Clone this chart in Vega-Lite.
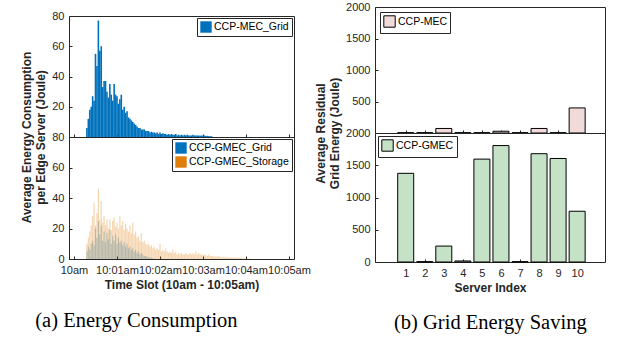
{
  "$schema": "https://vega.github.io/schema/vega-lite/v6.json",
  "background": "white",
  "padding": {"left": 20, "top": 0, "right": 2, "bottom": 2},
  "spacing": 3,
  "config": {
    "view": {"stroke": "#262626", "strokeWidth": 1},
    "axis": {
      "labelFont": "Liberation Sans", "labelFontSize": 11, "labelColor": "#262626", "labelOverlap": false, "labelBound": false, "labelFlush": false,
      "titleFont": "Liberation Sans", "titleFontSize": 12, "titleFontWeight": "bold", "titleColor": "#262626",
      "domain": false, "grid": false, "tickColor": "#262626", "tickSize": -3, "labelPadding": 8, "titlePadding": 4
    },
    "legend": {
      "title": null, "padding": 3, "strokeColor": "#262626", "fillColor": "white",
      "symbolType": "square", "symbolSize": 130, "symbolOpacity": 1, "symbolStrokeWidth": 0,
      "labelFont": "Liberation Sans", "labelFontSize": 10.5, "labelColor": "black", "labelOffset": 2, "rowPadding": 2
    }
  },
  "datasets": {
    "ts": [
      {"t":18,"a":6,"g":5,"s":10},{"t":20,"a":12,"g":8,"s":14},{"t":22,"a":18,"g":6,"s":18},{"t":24,"a":20,"g":10,"s":22},
      {"t":26,"a":27,"g":12,"s":28},{"t":28,"a":24,"g":9,"s":37},{"t":30,"a":55,"g":20,"s":22},{"t":32,"a":47,"g":14,"s":30},
      {"t":34,"a":77,"g":25,"s":46},{"t":36,"a":57,"g":16,"s":26},{"t":38,"a":60,"g":22,"s":38},{"t":40,"a":33,"g":12,"s":24},
      {"t":42,"a":37,"g":18,"s":28},{"t":44,"a":37,"g":11,"s":22},{"t":46,"a":30,"g":17,"s":26},{"t":48,"a":26,"g":13,"s":20},
      {"t":50,"a":35,"g":19,"s":26},{"t":52,"a":28,"g":10,"s":19},{"t":54,"a":24,"g":15,"s":25},{"t":56,"a":35,"g":12,"s":27},
      {"t":58,"a":28,"g":16,"s":21},{"t":60,"a":27,"g":10,"s":24},{"t":62,"a":22,"g":14,"s":20},{"t":64,"a":25,"g":11,"s":28},
      {"t":66,"a":28,"g":12,"s":22},{"t":68,"a":18,"g":9,"s":25},{"t":70,"a":20,"g":11,"s":19},{"t":72,"a":16,"g":8,"s":23},
      {"t":74,"a":17,"g":10,"s":20},{"t":76,"a":13,"g":7,"s":18},{"t":78,"a":12,"g":8,"s":22},{"t":80,"a":11,"g":6,"s":17},
      {"t":82,"a":10,"g":7,"s":24},{"t":84,"a":9,"g":5,"s":16},{"t":86,"a":8,"g":6,"s":18},{"t":88,"a":7,"g":4,"s":14},
      {"t":90,"a":6,"g":5,"s":15},{"t":92,"a":6,"g":3,"s":12},{"t":94,"a":5,"g":4,"s":17},{"t":96,"a":5,"g":3,"s":11},
      {"t":98,"a":5,"g":2,"s":12},{"t":100,"a":4,"g":2,"s":10},{"t":102,"a":4,"g":1.5,"s":9},{"t":104,"a":4,"g":1,"s":10},
      {"t":106,"a":3,"g":1,"s":8},{"t":108,"a":3.5,"g":0.5,"s":9},{"t":110,"a":3,"g":0.5,"s":7},{"t":112,"a":3,"g":0,"s":8},
      {"t":114,"a":2.5,"g":0,"s":6},{"t":116,"a":3,"g":0,"s":7},{"t":118,"a":2,"g":0,"s":6},{"t":120,"a":3,"g":0,"s":10},
      {"t":122,"a":2,"g":0,"s":5},{"t":124,"a":2.5,"g":0,"s":6},{"t":126,"a":2,"g":0,"s":5},{"t":128,"a":2,"g":0,"s":7},
      {"t":130,"a":1.5,"g":0,"s":5},{"t":132,"a":2,"g":0,"s":4},{"t":134,"a":1.5,"g":0,"s":5},{"t":136,"a":2,"g":0,"s":4},
      {"t":138,"a":1.5,"g":0,"s":6},{"t":140,"a":1.5,"g":0,"s":4},{"t":142,"a":2,"g":0,"s":5},{"t":144,"a":1,"g":0,"s":3},
      {"t":146,"a":1.5,"g":0,"s":4},{"t":148,"a":1,"g":0,"s":3},{"t":150,"a":1.5,"g":0,"s":4},{"t":152,"a":1,"g":0,"s":3},
      {"t":154,"a":1.5,"g":0,"s":3},{"t":156,"a":1,"g":0,"s":4},{"t":158,"a":1.5,"g":0,"s":3},{"t":160,"a":1,"g":0,"s":3},
      {"t":162,"a":1,"g":0,"s":4},{"t":164,"a":1,"g":0,"s":3},{"t":166,"a":1.5,"g":0,"s":4},{"t":168,"a":1,"g":0,"s":3},
      {"t":170,"a":1,"g":0,"s":5},{"t":172,"a":1,"g":0,"s":3},{"t":174,"a":1,"g":0,"s":4},{"t":176,"a":0.8,"g":0,"s":3},
      {"t":178,"a":1,"g":0,"s":3},{"t":180,"a":0.8,"g":0,"s":2.5},{"t":182,"a":1,"g":0,"s":3},{"t":184,"a":0.6,"g":0,"s":2.5},
      {"t":186,"a":0.8,"g":0,"s":2},{"t":188,"a":0.6,"g":0,"s":3},{"t":190,"a":0.5,"g":0,"s":2},{"t":192,"a":0.5,"g":0,"s":2},
      {"t":194,"a":0,"g":0,"s":2},{"t":196,"a":0,"g":0,"s":1.5},{"t":198,"a":0,"g":0,"s":2},{"t":200,"a":0,"g":0,"s":1.5},
      {"t":202,"a":0,"g":0,"s":2},{"t":204,"a":0,"g":0,"s":1.5},{"t":206,"a":0,"g":0,"s":1},{"t":208,"a":0,"g":0,"s":1.5},
      {"t":210,"a":0,"g":0,"s":1},{"t":212,"a":0,"g":0,"s":1.5},{"t":214,"a":0,"g":0,"s":1},{"t":216,"a":0,"g":0,"s":1},
      {"t":218,"a":0,"g":0,"s":1.2},{"t":220,"a":0,"g":0,"s":0.8},{"t":222,"a":0,"g":0,"s":1},{"t":224,"a":0,"g":0,"s":0.8},
      {"t":226,"a":0,"g":0,"s":1},{"t":228,"a":0,"g":0,"s":0.7},{"t":230,"a":0,"g":0,"s":0.8},{"t":232,"a":0,"g":0,"s":0.6},
      {"t":234,"a":0,"g":0,"s":0.7},{"t":236,"a":0,"g":0,"s":0.5},{"t":238,"a":0,"g":0,"s":0.5},{"t":240,"a":0,"g":0,"s":0.4},
      {"t":242,"a":0,"g":0,"s":0.4},{"t":244,"a":0,"g":0,"s":0.3}
    ],
    "srv": [
      {"i":1,"mec":5,"gmec":1375},{"i":2,"mec":5,"gmec":5},{"i":3,"mec":72,"gmec":247},{"i":4,"mec":5,"gmec":16},
      {"i":5,"mec":5,"gmec":1595},{"i":6,"mec":28,"gmec":1805},{"i":7,"mec":5,"gmec":5},{"i":8,"mec":72,"gmec":1679},
      {"i":9,"mec":5,"gmec":1605},{"i":10,"mec":398,"gmec":787}
    ]
  },
  "resolve": {"scale": {"x": "independent", "y": "independent", "color": "independent"}, "legend": {"color": "independent"}},
  "hconcat": [
    {
      "vconcat": [
        {
          "width": 225, "height": 9,
          "view": {"stroke": null},
          "data": {"values": [{"k": 0}]},
          "mark": {"type": "point", "opacity": 0},
          "encoding": {}
        },
        {
          "width": 225, "height": 121,
          "data": {"name": "ts"},
          "mark": {"type": "bar", "size": 1.6},
          "encoding": {
            "x": {"field": "t", "type": "quantitative", "scale": {"domain": [0, 300], "nice": false},
                  "axis": {"values": [0, 60, 120, 180, 240, 300], "labels": false, "title": null}},
            "y": {"field": "a", "type": "quantitative", "scale": {"domain": [0, 80], "nice": false},
                  "axis": {"values": [20, 40, 60, 80], "labelOverlap": false,
                           "title": ["Average Energy Consumption", "per Edge Server (Joule)"], "titleY": 121}},
            "color": {"datum": "CCP-MEC_Grid", "scale": {"domain": ["CCP-MEC_Grid"], "range": ["#0072BD"]},
                      "legend": {"orient": "top-right", "offset": 2}}
          }
        },
        {
          "width": 225, "height": 122,
          "data": {"name": "ts"},
          "transform": [{"fold": ["g", "s"], "as": ["series", "val"]}],
          "mark": {"type": "bar", "size": 1.2, "opacity": 0.33},
          "encoding": {
            "x": {"field": "t", "type": "quantitative", "scale": {"domain": [0, 300], "nice": false},
                  "axis": {"values": [0, 60, 120, 180, 240, 300], "labelOverlap": false,
                           "labelExpr": "datum.value == 0 ? '10am' : '10:0' + (datum.value / 60) + 'am'",
                           "title": "Time Slot (10am - 10:05am)"}},
            "y": {"field": "val", "type": "quantitative", "stack": null, "scale": {"domain": [0, 80], "nice": false},
                  "axis": {"values": [0, 20, 40, 60, 80], "labelOverlap": false, "title": null}},
            "color": {"field": "series", "type": "nominal",
                      "scale": {"domain": ["g", "s"], "range": ["#0072BD", "#E07E0B"]},
                      "legend": {"orient": "top-right", "offset": 2, "labelExpr": "datum.value == 'g' ? 'CCP-GMEC_Grid' : 'CCP-GMEC_Storage'"}}
          }
        }
      ],
      "spacing": 0,
      "bounds": "flush",
      "resolve": {"scale": {"x": "independent", "y": "independent", "color": "independent"}, "legend": {"color": "independent"}},
      "title": {"text": "(a) Energy Consumption", "orient": "bottom", "anchor": "start", "font": "Liberation Serif", "fontSize": 20.5,
                "fontWeight": "normal", "color": "black", "offset": 20, "dx": 15}
    },
    {
      "vconcat": [
        {
          "width": 230, "height": 126,
          "data": {"name": "srv"},
          "mark": {"type": "bar", "size": 16, "stroke": "black", "strokeWidth": 1},
          "encoding": {
            "x": {"field": "i", "type": "quantitative", "scale": {"domain": [-0.35, 11.2], "nice": false, "zero": false},
                  "axis": {"values": [1,2,3,4,5,6,7,8,9,10], "labels": false, "title": null}},
            "y": {"field": "mec", "type": "quantitative", "scale": {"domain": [0, 2000], "nice": false},
                  "axis": {"values": [500, 1000, 1500, 2000], "labelOverlap": false,
                           "title": ["Average Residual", "Grid Energy (Joule)"], "titleY": 126, "format": "d"}},
            "color": {"datum": "CCP-MEC", "scale": {"domain": ["CCP-MEC"], "range": ["#F0DADA"]},
                      "legend": {"orient": "top-left", "offset": 5, "symbolStrokeColor": "black", "symbolStrokeWidth": 1}}
          }
        },
        {
          "width": 230, "height": 129,
          "data": {"name": "srv"},
          "mark": {"type": "bar", "size": 16, "stroke": "black", "strokeWidth": 1},
          "encoding": {
            "x": {"field": "i", "type": "quantitative", "scale": {"domain": [-0.35, 11.2], "nice": false, "zero": false},
                  "axis": {"values": [1,2,3,4,5,6,7,8,9,10], "labelOverlap": false, "title": "Server Index"}},
            "y": {"field": "gmec", "type": "quantitative", "scale": {"domain": [0, 2000], "nice": false},
                  "axis": {"values": [0, 500, 1000, 1500, 2000], "labelOverlap": false, "title": null, "format": "d"}},
            "color": {"datum": "CCP-GMEC", "scale": {"domain": ["CCP-GMEC"], "range": ["#C6E2C6"]},
                      "legend": {"orient": "top-left", "offset": 3, "symbolStrokeColor": "black", "symbolStrokeWidth": 1}}
          }
        }
      ],
      "spacing": 0,
      "bounds": "flush",
      "resolve": {"scale": {"x": "independent", "y": "independent", "color": "independent"}, "legend": {"color": "independent"}},
      "title": {"text": "(b) Grid Energy Saving", "orient": "bottom", "anchor": "start", "font": "Liberation Serif", "fontSize": 20.5,
                "fontWeight": "normal", "color": "black", "offset": 19, "dx": 80}
    }
  ]
}
